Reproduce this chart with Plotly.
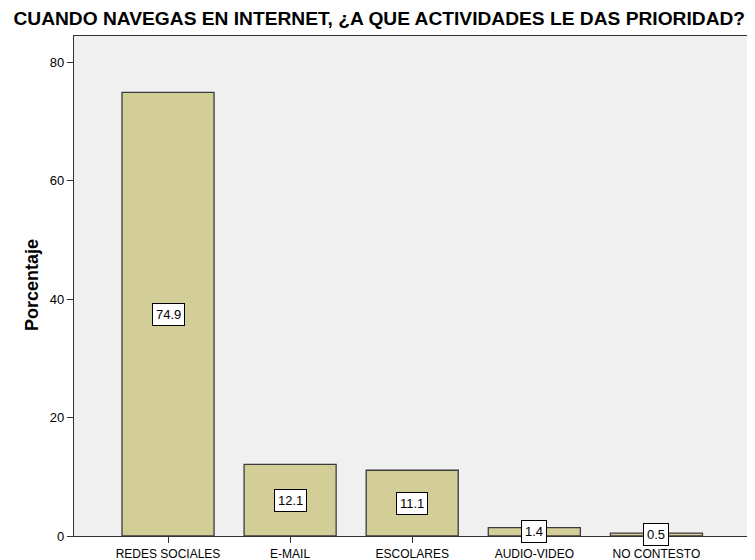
import plotly.graph_objects as go

categories = ["REDES SOCIALES", "E-MAIL", "ESCOLARES", "AUDIO-VIDEO", "NO CONTESTO"]
values = [74.9, 12.1, 11.1, 1.4, 0.5]
y_ticks = [0, 20, 40, 60, 80]

fig = go.Figure()
fig.add_trace(go.Bar(
    x=list(range(len(categories))), y=values,
    marker=dict(color="#d3ce98", line=dict(color="#3c3c3c", width=1.3)),
    width=0.754, hoverinfo="skip",
))
for i, v in enumerate(values):
    fig.add_annotation(x=i, y=v / 2, text=f"{v:.1f}", showarrow=False,
                       font=dict(family="Liberation Sans, Arial", size=13, color="black"),
                       bgcolor="white", bordercolor="black", borderwidth=1, borderpad=3)

fig.add_annotation(text="<b>Porcentaje</b>", xref="paper", yref="paper",
                   x=-0.0623, y=0.502, xanchor="center", yanchor="middle",
                   textangle=-90, showarrow=False,
                   font=dict(family="Liberation Sans, Arial", size=18, color="black"))

# page has an 8px body margin, so the figure is sized/placed to compensate
fig.update_layout(
    width=747, height=552,
    margin=dict(l=66, r=7, t=28, b=24, autoexpand=False),
    paper_bgcolor="white", plot_bgcolor="#f0f0f0",
    showlegend=False,
    title=dict(text="<b>CUANDO NAVEGAS EN INTERNET, ¿A QUE ACTIVIDADES LE DAS PRIORIDAD?</b>",
               x=0.497, xanchor="center", y=0.982, yanchor="middle", automargin=False,
               font=dict(family="Liberation Sans, Arial", size=19.2, color="black")),
    font=dict(family="Liberation Sans, Arial", size=12, color="black"),
)
fig.update_xaxes(
    range=[-0.77, 4.75], tickvals=list(range(len(categories))), ticktext=categories,
    ticks="outside", ticklen=6, tickcolor="#333", showgrid=False, zeroline=False,
    showline=True, linecolor="#333", linewidth=1.3, mirror=True, automargin=False,
    tickfont=dict(family="Liberation Sans Narrow, Liberation Sans, Arial", size=12),
)
fig.update_yaxes(
    range=[0, 84.4], tickvals=y_ticks, ticks="outside", ticklen=6, tickcolor="#333",
    showgrid=False, zeroline=False, showline=True, linecolor="#333", linewidth=1.3, mirror=True,
    automargin=False,
    tickfont=dict(size=13),
)
fig.write_html("out.html")
